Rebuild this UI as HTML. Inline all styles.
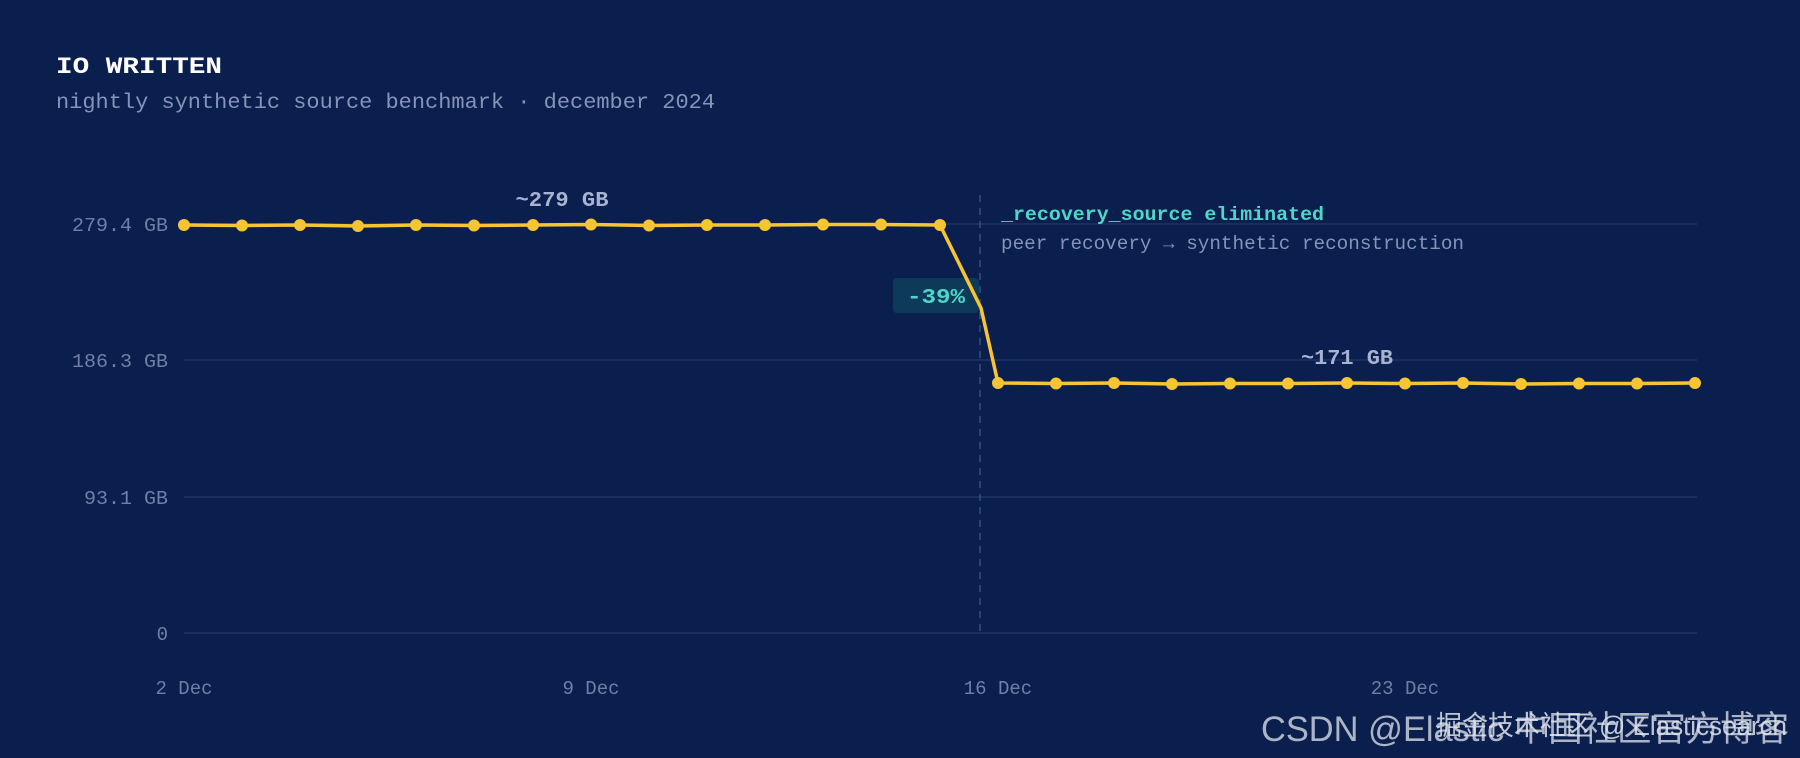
<!DOCTYPE html>
<html><head><meta charset="utf-8"><style>
html,body{margin:0;padding:0;background:#0a1f4d;}
svg{display:block;}
</style></head><body>
<svg width="1800" height="758" viewBox="0 0 1800 758" xmlns="http://www.w3.org/2000/svg" font-family="'Liberation Mono', monospace">
<rect width="1800" height="758" fill="#0a1f4d"/>
<text x="56" y="73" fill="#ffffff" font-size="23" font-weight="bold" textLength="166" lengthAdjust="spacingAndGlyphs">IO WRITTEN</text>
<text x="56" y="108" fill="#8594b8" font-size="21" textLength="659" lengthAdjust="spacingAndGlyphs">nightly synthetic source benchmark · december 2024</text>
<g stroke="#1e3563" stroke-width="1.5">
<line x1="184" y1="224" x2="1697" y2="224"/>
<line x1="184" y1="360" x2="1697" y2="360"/>
<line x1="184" y1="497" x2="1697" y2="497"/>
<line x1="184" y1="633" x2="1697" y2="633"/>
</g>
<g fill="#6f7fa6" font-size="19" text-anchor="end">
<text x="168" y="231" textLength="96" lengthAdjust="spacingAndGlyphs">279.4 GB</text>
<text x="168" y="367" textLength="96" lengthAdjust="spacingAndGlyphs">186.3 GB</text>
<text x="168" y="504" textLength="84" lengthAdjust="spacingAndGlyphs">93.1 GB</text>
<text x="168" y="640">0</text>
</g>
<g fill="#6f7fa6" font-size="19" text-anchor="middle">
<text x="184" y="694">2 Dec</text>
<text x="591" y="694">9 Dec</text>
<text x="998" y="694">16 Dec</text>
<text x="1405" y="694">23 Dec</text>
</g>
<line x1="980" y1="195" x2="980" y2="633" stroke="#34507f" stroke-width="1.5" stroke-dasharray="7,6"/>
<rect x="893" y="278" width="86" height="35" rx="4" fill="#0e3a5a"/>
<text x="936" y="303" fill="#4fd6c8" font-size="21" font-weight="bold" text-anchor="middle" textLength="58" lengthAdjust="spacingAndGlyphs">-39%</text>
<text x="1001" y="220" fill="#4fd6c8" font-size="19" font-weight="bold" textLength="323" lengthAdjust="spacingAndGlyphs">_recovery_source eliminated</text>
<text x="1001" y="249" fill="#8594b8" font-size="19" textLength="463" lengthAdjust="spacingAndGlyphs">peer recovery → synthetic reconstruction</text>
<text x="562" y="206" fill="#a7b3d1" font-size="21" font-weight="bold" text-anchor="middle" textLength="93" lengthAdjust="spacingAndGlyphs">~279 GB</text>
<text x="1347" y="364" fill="#a7b3d1" font-size="21" font-weight="bold" text-anchor="middle" textLength="92" lengthAdjust="spacingAndGlyphs">~171 GB</text>
<polyline fill="none" stroke="#f7c531" stroke-width="3.5" stroke-linejoin="round" points="184,225 242,225.5 300,225 358,226 416,225 474,225.5 533,225 591,224.5 649,225.5 707,225 765,225 823,224.5 881,224.5 940,225 981,308 998,383 1056,383.5 1114,383 1172,384 1230,383.5 1288,383.5 1347,383 1405,383.5 1463,383 1521,384 1579,383.5 1637,383.5 1695,383"/>
<g fill="#f7c531">
<circle cx="184" cy="225" r="6"/><circle cx="242" cy="225.5" r="6"/><circle cx="300" cy="225" r="6"/><circle cx="358" cy="226" r="6"/><circle cx="416" cy="225" r="6"/><circle cx="474" cy="225.5" r="6"/><circle cx="533" cy="225" r="6"/><circle cx="591" cy="224.5" r="6"/><circle cx="649" cy="225.5" r="6"/><circle cx="707" cy="225" r="6"/><circle cx="765" cy="225" r="6"/><circle cx="823" cy="224.5" r="6"/><circle cx="881" cy="224.5" r="6"/><circle cx="940" cy="225" r="6"/>
<circle cx="998" cy="383" r="6"/><circle cx="1056" cy="383.5" r="6"/><circle cx="1114" cy="383" r="6"/><circle cx="1172" cy="384" r="6"/><circle cx="1230" cy="383.5" r="6"/><circle cx="1288" cy="383.5" r="6"/><circle cx="1347" cy="383" r="6"/><circle cx="1405" cy="383.5" r="6"/><circle cx="1463" cy="383" r="6"/><circle cx="1521" cy="384" r="6"/><circle cx="1579" cy="383.5" r="6"/><circle cx="1637" cy="383.5" r="6"/><circle cx="1695" cy="383" r="6"/>
</g>
<text x="1261" y="741" fill="#c9cfdc" fill-opacity="0.85" font-size="35" font-family="'Liberation Sans','Noto Sans CJK SC',sans-serif" textLength="528" lengthAdjust="spacingAndGlyphs">CSDN @Elastic 中国社区官方博客</text>
<text x="1436" y="735" fill="#e0e4ec" fill-opacity="0.85" font-size="27" font-family="'Liberation Sans','Noto Sans CJK SC',sans-serif" textLength="351" lengthAdjust="spacingAndGlyphs">掘金技术社区 @ Elasticsearch</text>
</svg>
</body></html>
